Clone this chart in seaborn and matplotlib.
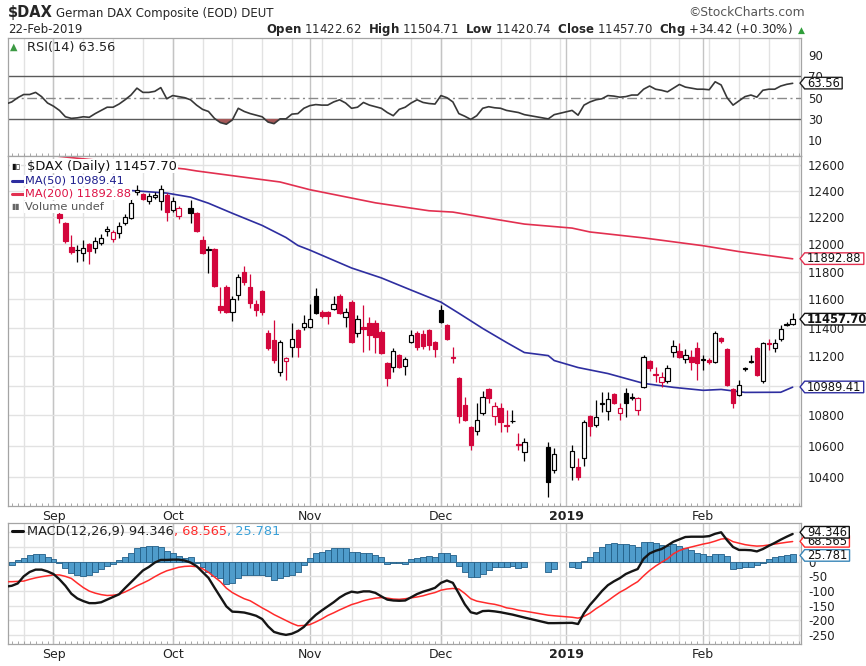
import numpy as np
import pandas as pd
import seaborn as sns
import matplotlib.pyplot as plt
from matplotlib.path import Path
from matplotlib.lines import Line2D
from matplotlib.ticker import FixedLocator, FuncFormatter, NullLocator

# ------------------------------------------------------------------ data
# Xetra closed days in the window: they keep an empty slot on the chart
closed_days = ["2018-12-24", "2018-12-25", "2018-12-26", "2018-12-31", "2019-01-01"]
first_day = "2018-08-22"
last_day = "2019-02-22"
candle_from = 9          # candles start on 4 Sep 2018 (10th trading day of the list)

# daily OHLC from 4 Sep 2018, None = no candle drawn on 3 Oct
opens = [12229, 12158, 11980, 11954, 11935, 12002, 11972, 12009, 12098, 12039,
         12083, 12158, 12195, 12392, 12377, 12324, 12354, 12324, 12369, 12256,
         12210, None, 12271, 12233, 12031, 11965, 11965, 11552, 11688, 11510,
         11631, 11796, 11688, 11566, 11659, 11361, 11313, 11092, 11167, 11264,
         11383, 11404, 11404, 11624, 11510, 11510, 11531, 11624, 11474, 11581,
         11361, 11404, 11432, 11432, 11369, 11154, 11126, 11209, 11133, 11299,
         11361, 11355, 11383, 11299, 11524, 11418, 11195, 11051, 10869, 10723,
         10696, 10816, 10977, 10796, 10849, 10739, 10762, 10614, 10559,
         10592, 10442,
         10462, 10462, 10520, 10796, 10736, 10879, 10829, 10943, 10816, 10950,
         10919, 10836, 10990, 11167, 11082, 11024, 11031, 11230, 11236, 11181,
         11195, 11257, 11178, 11174, 11160, 11327, 11250, 10977, 10936, 11116,
         11160, 11257, 11031, 11292, 11257, 11320, 11418, 11422.62]
highs = [12240, 12165, 12068, 11994, 12031, 12009, 12054, 12076, 12136, 12106,
         12165, 12226, 12339, 12446, 12385, 12385, 12392, 12446, 12385, 12354,
         12286, None, 12331, 12241, 12061, 11987, 11972, 11688, 11702, 11624,
         11782, 11840, 11782, 11595, 11666, 11383, 11453, 11313, 11195, 11432,
         11390, 11488, 11566, 11681, 11524, 11517, 11624, 11638, 11538, 11595,
         11488, 11559, 11474, 11453, 11383, 11160, 11257, 11216, 11195, 11383,
         11376, 11383, 11390, 11306, 11559, 11425, 11264, 11058, 10923, 10729,
         10882, 10963, 10983, 10889, 10882, 10836, 10836, 10683, 10650,
         10624, 10585,
         10604, 10520, 10769, 10802, 10902, 10957, 10957, 10950, 10882, 10983,
         10950, 10923, 11209, 11174, 11126, 11092, 11140, 11313, 11292, 11250,
         11243, 11299, 11209, 11188, 11376, 11334, 11257, 10983, 11038, 11126,
         11209, 11264, 11299, 11320, 11320, 11418, 11439, 11504.71]
lows = [12158, 12009, 11928, 11869, 11877, 11855, 11935, 11994, 12061, 12017,
        12046, 12143, 12188, 12369, 12331, 12301, 12339, 12256, 12173, 12241,
        12188, None, 12158, 12091, 11928, 11789, 11688, 11502, 11502, 11446,
        11595, 11702, 11538, 11481, 11488, 11243, 11154, 11065, 11038, 11195,
        11195, 11383, 11397, 11495, 11467, 11425, 11524, 11495, 11404, 11292,
        11334, 11230, 11243, 11223, 11216, 10997, 11092, 11120, 11072, 11292,
        11243, 11250, 11243, 11195, 11432, 11313, 11154, 10749, 10762, 10572,
        10670, 10802, 10882, 10736, 10690, 10690, 10749, 10572, 10501,
        10271, 10423,
        10378, 10378, 10468, 10663, 10723, 10822, 10769, 10876, 10769, 10789,
        10902, 10802, 10983, 11099, 11024, 10990, 11017, 11195, 11188, 11154,
        11106, 11038, 11106, 11147, 11154, 11292, 10997, 10849, 10929, 11099,
        11154, 11065, 11017, 11243, 11230, 11306, 11411, 11420.74]
closes = [12195, 12024, 11943, 11961, 11972, 11950, 12024, 12046, 12113, 12091,
          12136, 12203, 12309, 12408, 12339, 12362, 12369, 12415, 12241, 12324,
          12271, None, 12233, 12098, 11935, 11957, 11695, 11524, 11510, 11602,
          11760, 11724, 11573, 11524, 11510, 11257, 11174, 11299, 11188, 11320,
          11264, 11432, 11460, 11502, 11481, 11478, 11566, 11502, 11510, 11299,
          11460, 11390, 11348, 11334, 11223, 11051, 11236, 11126, 11181, 11348,
          11264, 11271, 11278, 11250, 11439, 11320, 11188, 10796, 10769, 10605,
          10769, 10923, 10916, 10862, 10756, 10733, 10766, 10608, 10624,
          10366, 10546,
          10566, 10398, 10756, 10729, 10789, 10886, 10909, 10882, 10849, 10882,
          10926, 10916, 11195, 11120, 11075, 11058, 11120, 11271, 11195, 11209,
          11160, 11154, 11185, 11160, 11361, 11306, 11004, 10882, 11004, 11123,
          11167, 11072, 11292, 11288, 11292, 11390, 11423.28, 11457.70]
# u = closed above the prior close (black), d = below it (red), as shown on the chart
vs_prev = ("ddduuduuud" "uuuuduuudu" "d-uddudddu" "uddddddudu" "duuuddudud"
           "uddddduduu" "dddduddddd" "uuddddudu" "uu" "ududuuuddu"
           "ududdduudu" "ddududdduu" "ududuuuu")

# indicators, one value per trading day from 22 Aug 2018
rsi = [44, 46, 50, 53, 53, 55, 51, 45,
       42, 38, 32, 30.5, 31, 32, 31.5, 35, 38, 41,
       41, 44, 48, 52.5, 59, 55, 55, 56, 59.5, 49,
       52, 51, 50, 48, 43, 39, 37, 30.5, 26.5, 25,
       29, 40, 37, 35, 33.5, 32, 27, 25.5, 30, 30,
       34.5, 35, 40, 42.5, 43.5, 43, 43, 46, 48, 45,
       40, 41, 45.5, 43, 41.5, 40, 36, 33, 39, 41,
       45, 48, 45.5, 44.5, 44, 52, 50, 46, 35, 32.5,
       29.5, 33, 40, 41.5, 40.5, 40, 38, 37, 36, 34,
       30, 34,
       38, 33.5, 43, 46, 48, 49, 52, 51.5, 50.5, 51,
       52.5, 52.5, 58, 61, 58, 57, 55.5, 59, 62.5, 60,
       59, 58, 58, 57.5, 65, 62, 50, 43, 47, 51,
       52.5, 50.5, 57, 58, 58, 61, 62.6, 63.56]
macd_line = [-85, -82, -74, -50, -35, -27, -27, -33,
             -42, -60, -82, -109, -125, -134, -141, -141, -138, -129,
             -120, -111, -90, -70, -50, -30, -18, -3, 6, 6,
             7, 7, 4, -3, -15, -35, -55, -88, -120, -152,
             -170, -171, -173, -178, -184, -195, -220, -239, -245, -249,
             -245, -236, -222, -200, -181, -166, -152, -138, -122, -110,
             -102, -105, -101, -101, -106, -118, -129, -132, -133, -132,
             -121, -110, -102, -96, -89, -72, -64, -72, -108, -145,
             -172, -177, -168, -167, -169, -172, -176, -180, -185, -190,
             -209, -209,
             -208, -212, -175, -147, -124, -100, -80, -67, -56, -42,
             -33, -25, 10, 28, 37, 43, 55, 68, 76, 84,
             85, 85, 85, 87, 95, 100, 73, 50, 40, 40,
             39, 35, 43, 54, 64, 75, 85, 94.346]
macd_signal = [-68, -68, -67, -66, -60, -55, -51, -48,
               -45, -45, -50, -57, -73, -88, -100, -107, -112, -115,
               -114, -111, -103, -93, -82, -73, -63, -51, -40, -31,
               -25, -19, -16, -15, -17, -24, -36, -52, -68, -90,
               -105, -116, -126, -133, -145, -157, -168, -180, -190, -200,
               -210, -218, -217, -214, -205, -195, -183, -174, -164, -155,
               -146, -140, -133, -128, -124, -122, -124, -127, -128, -126,
               -123, -120, -116, -110, -105, -97, -93, -91, -93, -108,
               -126, -134, -138, -142, -145, -150, -157, -160, -165, -168,
               -182, -184,
               -189, -192, -186, -175, -160, -147, -133, -118, -104, -93,
               -80, -68, -48, -30, -15, -2, 10, 27, 38, 45,
               50, 55, 60, 64, 70, 77, 79, 68, 63, 58,
               55, 53, 54, 57, 60, 63, 66, 68.565]
macd_hist = [-11, -11, 5, 11, 22, 26, 26, 17,
             8, -3, -23, -40, -45, -48, -45, -36, -25, -14,
             -8, 6, 17, 31, 45, 51, 52, 52, 50, 36,
             28, 19, 11, 15, -3, -17, -34, -50, -57, -76,
             -72, -57, -45, -45, -45, -46, -48, -62, -57, -50,
             -45, -34, -11, 11, 28, 34, 40, 48, 48, 48,
             34, 34, 31, 28, 22, 15, -8, -6, -6, -8,
             8, 12, 15, 20, 17, 31, 31, 22, -13, -34,
             -51, -51, -42, -28, -19, -19, -19, -15, -23, -17,
             -34, -26,
             -19, -23, 3, 17, 34, 49, 59, 62, 60, 60,
             57, 49, 68, 68, 62, 57, 53, 60, 53, 45,
             40, 31, 26, 19, 26, 26, 20, -26, -23, -17,
             -17, -11, -3, 8, 15, 20, 24, 25.781]

ma50_dates = ["2018-09-19", "2018-09-28", "2018-10-04", "2018-10-09", "2018-10-15",
              "2018-10-22", "2018-10-26", "2018-10-30", "2018-11-01", "2018-11-12",
              "2018-11-19", "2018-11-26", "2018-12-03", "2018-12-06", "2018-12-12",
              "2018-12-18", "2018-12-21", "2018-12-27", "2018-12-28", "2019-01-03",
              "2019-01-10", "2019-01-18", "2019-01-25", "2019-02-01", "2019-02-06",
              "2019-02-12", "2019-02-20", "2019-02-22"]
ma50 = [12407, 12384, 12353, 12307, 12231, 12140, 12050, 11991, 11957, 11826,
        11754, 11666, 11580, 11501, 11394, 11296, 11226, 11205, 11171, 11123,
        11082, 11015, 10988, 10968, 10974, 10954, 10955, 10989.41]
ma200_dates = ["2018-09-03", "2018-09-10", "2018-10-03", "2018-10-05", "2018-10-25",
               "2018-11-01", "2018-11-16", "2018-11-29", "2018-12-05", "2018-12-14",
               "2018-12-21", "2019-01-02", "2019-01-07", "2019-01-18", "2019-02-01",
               "2019-02-11", "2019-02-22"]
ma200 = [12672, 12648, 12569, 12554, 12469, 12410, 12310, 12250, 12240, 12187,
         12150, 12120, 12091, 12047, 11989, 11946, 11892.88]

price_grid = list(range(10400, 12601, 200))
price_ticks = [10400, 10600, 10800, 11200, 11400, 11600, 11800, 12000, 12200, 12400, 12600]
rsi_ticks = [10, 30, 50, 70, 90]
macd_grid = [-250, -200, -150, -100, -50, 0, 50, 100]
macd_ticks = [-250, -200, -150, -100, -50, 0]
month_names = ["Sep", "Oct", "Nov", "Dec", "2019", "Feb"]

# ------------------------------------------------------------------ calendar
days = pd.bdate_range(first_day, last_day)
days = days[~days.isin(pd.to_datetime(closed_days))]


def slot_of(d):
    d = pd.to_datetime(d).values.astype("datetime64[D]")
    return np.busday_count(np.datetime64("2018-09-03"), d)


sl = slot_of(days)
assert len(sl) == len(rsi) == len(macd_line) == len(macd_signal) == len(macd_hist)
assert len(opens) == len(highs) == len(lows) == len(closes) == len(vs_prev) == len(sl) - candle_from

weekdays = pd.bdate_range("2018-08-20", "2019-02-28")
monday_slots = slot_of(weekdays[weekdays.weekday == 0])
month_first = weekdays.to_series().groupby([weekdays.year, weekdays.month]).first()
month_slots = slot_of(month_first.values)[1:7]

# ------------------------------------------------------------------ style
sns.set_theme(style="white")
plt.rcParams["font.family"] = ["DejaVu Sans"]

W, H = 866, 666
RED = "#d3063c"
NAVY = "#2e2ea0"
MA_RED = "#e23050"
GRID = "#e2e2e2"
MGRID = "#c4c4c4"


def px(x, y):
    return x / W, 1 - y / H


def tag_box(x0, y0, width, height, mutation_size):
    # tight price tag with a point on its left side
    pad = 0.2 * mutation_size
    lo, hi = y0 + 0.07 * height, y0 + 0.96 * height
    x0, x1 = x0 - pad, x0 + width + pad
    h = hi - lo
    verts = [(x0, lo), (x1, lo), (x1, hi), (x0, hi), (x0 - 0.4 * h, lo + h / 2), (x0, lo)]
    return Path(verts, closed=True)


def value_tag(ax, y, text, ec, z, bold=False, dy=0):
    ax.annotate(text, xy=(1, y), xycoords=("axes fraction", "data"),
                xytext=(6, dy), textcoords="offset pixels", ha="left", va="center",
                fontsize=8.3, fontweight="bold" if bold else "normal", color="#111",
                bbox=dict(boxstyle=tag_box, fc="white", ec=ec, lw=1.0),
                annotation_clip=False, zorder=z)


fig = plt.figure(figsize=(W / 100, H / 100), dpi=100)
fig.patch.set_facecolor("white")
x_left, x_right = 8.3, 801
ax_rsi = fig.add_axes([x_left / W, 1 - 156 / H, (x_right - x_left) / W, (156 - 38) / H])
ax_px = fig.add_axes([x_left / W, 1 - 505.7 / H, (x_right - x_left) / W, (505.7 - 156) / H])
ax_macd = fig.add_axes([x_left / W, 1 - 644 / H, (x_right - x_left) / W, (644 - 523.3) / H])

for a in (ax_rsi, ax_px, ax_macd):
    a.set_facecolor("white")
    a.set_xlim(-7.58, 125.4)
    for m in monday_slots:
        a.axvline(m, color=GRID, lw=1.0, zorder=0)
    for m in month_slots:
        a.axvline(m, color=MGRID, lw=1.0, zorder=0)
    for s in a.spines.values():
        s.set_color("#a4a4a4")
        s.set_linewidth(0.9)
    a.set_xticks(month_slots)
    a.set_xticklabels(month_names)
    a.set_xticks(np.arange(-7, 126), minor=True)
    a.tick_params(axis="x", which="major", length=0, pad=3, labelsize=9, labelcolor="#222")
    a.tick_params(axis="x", which="minor", direction="in", length=2.5, width=0.6,
                  color="#9a9a9a", bottom=True, top=False)
    a.get_xticklabels()[4].set_fontweight("bold")
    a.yaxis.tick_right()
    a.tick_params(axis="y", which="both", length=0, pad=5, labelsize=8.5, labelcolor="#222")

# ------------------------------------------------------------------ RSI panel
r = np.array(rsi, dtype=float)
ax_rsi.axhline(70, color="#5a5a5a", lw=1.0, zorder=1)
ax_rsi.axhline(30, color="#5a5a5a", lw=1.0, zorder=1)
ax_rsi.axhline(50, color="#8a8a8a", lw=1.0, ls=(0, (7, 2.5, 1.5, 2.5)), zorder=1)
ax_rsi.fill_between(sl, r, 30, where=r < 30, interpolate=True, color="#a45858", lw=0, zorder=2)
sns.lineplot(x=sl, y=r, ax=ax_rsi, color="#383838", linewidth=1.2, zorder=3)
ax_rsi.set_ylim(-5, 106.3)
ax_rsi.set_yticks(rsi_ticks)
ax_rsi.tick_params(labelbottom=False)
value_tag(ax_rsi, rsi[-1], f"{rsi[-1]:.2f}", "#222", 20)

# ------------------------------------------------------------------ price panel
cd = pd.DataFrame({"x": sl[candle_from:], "o": opens, "h": highs, "l": lows,
                   "c": closes, "t": list(vs_prev)}).dropna()
edge = np.where(cd.t == "u", "black", RED)
face = np.where(cd.c > cd.o, "white", edge)
ax_px.set_yscale("log")
for v in price_grid:
    ax_px.axhline(v, color=GRID, lw=1.0, zorder=0)
sns.lineplot(x=slot_of(ma200_dates), y=ma200, ax=ax_px, color=MA_RED, linewidth=1.2, zorder=2)
sns.lineplot(x=slot_of(ma50_dates), y=ma50, ax=ax_px, color=NAVY, linewidth=1.2, zorder=2)
ax_px.vlines(cd.x, cd.l, cd.h, colors=edge, lw=0.9, zorder=3)
ax_px.bar(cd.x, (cd.c - cd.o).abs(), bottom=np.minimum(cd.o, cd.c), width=0.74,
          color=face, edgecolor=edge, linewidth=0.85, zorder=4)
ax_px.set_ylim(10216, 12670)
ax_px.yaxis.set_major_locator(FixedLocator(price_ticks))
ax_px.yaxis.set_major_formatter(FuncFormatter(lambda v, p: f"{v:.0f}"))
ax_px.yaxis.set_minor_locator(NullLocator())
value_tag(ax_px, ma200[-1], f"{ma200[-1]:.2f}", MA_RED, 20)
value_tag(ax_px, closes[-1], f"{closes[-1]:.2f}", "#111", 21, bold=True)
value_tag(ax_px, ma50[-1], f"{ma50[-1]:.2f}", NAVY, 22)

# ------------------------------------------------------------------ MACD panel
for v in macd_grid:
    ax_macd.axhline(v, color=GRID, lw=1.0, zorder=0)
ax_macd.bar(sl, macd_hist, width=1.0, color="#4f9ccb", edgecolor="#225f88", linewidth=0.6, zorder=2)
sns.lineplot(x=sl, y=macd_signal, ax=ax_macd, color="#ff2b2b", linewidth=1.1, zorder=3)
sns.lineplot(x=sl, y=macd_line, ax=ax_macd, color="#151515", linewidth=1.7, zorder=4)
ax_macd.set_ylim(-280, 130.6)
ax_macd.set_yticks(macd_ticks)
ax_macd.yaxis.set_major_formatter(FuncFormatter(lambda v, p: f"{v:.0f}"))
value_tag(ax_macd, macd_signal[-1], f"{macd_signal[-1]:.3f}", "#ff2b2b", 20)
value_tag(ax_macd, macd_line[-1], f"{macd_line[-1]:.3f}", "#111", 21, dy=1.5)
value_tag(ax_macd, macd_hist[-1], f"{macd_hist[-1]:.3f}", "#3a86b8", 22, dy=-1.5)

for a in (ax_rsi, ax_px, ax_macd):
    a.set_xlabel("")
    a.set_ylabel("")

# ------------------------------------------------------------------ header + legends
fig.text(*px(8, 13), r"\$DAX", fontsize=10.5, fontweight="bold", va="center", ha="left")
fig.text(*px(56, 13.5), "German DAX Composite (EOD) DEUT", fontsize=8.5, va="center", ha="left")
fig.text(*px(805, 13), "\u00a9StockCharts.com", fontsize=8.8, color="#555", va="center", ha="right")
fig.text(*px(8, 29.5), "22-Feb-2019", fontsize=8.5, va="center", ha="left")
fig.text(*px(793, 29.5),
         r"$\bf{Open}$ 11422.62  $\bf{High}$ 11504.71  $\bf{Low}$ 11420.74  "
         r"$\bf{Close}$ 11457.70  $\bf{Chg}$ +34.42 (+0.30%)",
         fontsize=8.5, va="center", ha="right")
fig.text(*px(801, 30), "\u25b2", fontsize=6.5, color="#2f9e3a", va="center", ha="center")

fig.text(*px(10, 47), "\u25b2", fontsize=7, color="#3c9a44", va="center", ha="left")
fig.text(*px(27, 47), f"RSI(14) {rsi[-1]:.2f}", fontsize=9.3, va="center", ha="left", color="#222")

box = dict(fc="white", ec="none", pad=0.6)
fig.text(*px(11, 166), "\u25ae\u25af", fontsize=6, va="center", ha="left", color="#111", bbox=box)
fig.text(*px(27, 166), r"\$DAX (Daily) " + f"{closes[-1]:.2f}", fontsize=9.4,
         va="center", ha="left", color="#111", bbox=box)
fig.text(*px(25, 180.5), f"MA(50) {ma50[-1]:.2f}", fontsize=8.2, va="center", ha="left",
         color="#1c1c8c", bbox=box)
fig.text(*px(25, 194), f"MA(200) {ma200[-1]:.2f}", fontsize=8.2, va="center", ha="left",
         color="#dd1144", bbox=box)
fig.text(*px(11, 207), "\u25ae\u25ae", fontsize=5.5, va="center", ha="left", color="#666", bbox=box)
fig.text(*px(25, 207), "Volume undef", fontsize=8.2, va="center", ha="left", color="#555", bbox=box)
for yy, cc in ((180.5, NAVY), (194, MA_RED)):
    fig.add_artist(Line2D([px(12, 0)[0], px(24, 0)[0]], [px(0, yy)[1]] * 2,
                          transform=fig.transFigure, color=cc, lw=2.2))

fig.add_artist(Line2D([px(12, 0)[0], px(23, 0)[0]], [px(0, 531)[1]] * 2,
                      transform=fig.transFigure, color="#111", lw=2.2, zorder=30))
t1 = fig.text(*px(27, 531), f"MACD(12,26,9) {macd_line[-1]:.3f}", fontsize=9.3,
              va="center", ha="left", color="#222", zorder=30)
t2 = ax_macd.annotate(f", {macd_signal[-1]:.3f}", xy=(1, 0.5), xycoords=t1, va="center",
                      ha="left", fontsize=9.3, color="#ff2b2b", zorder=30)
ax_macd.annotate(f", {macd_hist[-1]:.3f}", xy=(1, 0.5), xycoords=t2, va="center",
                 ha="left", fontsize=9.3, color="#3aa0d8", zorder=30)

fig.savefig("out.png", dpi=100)
